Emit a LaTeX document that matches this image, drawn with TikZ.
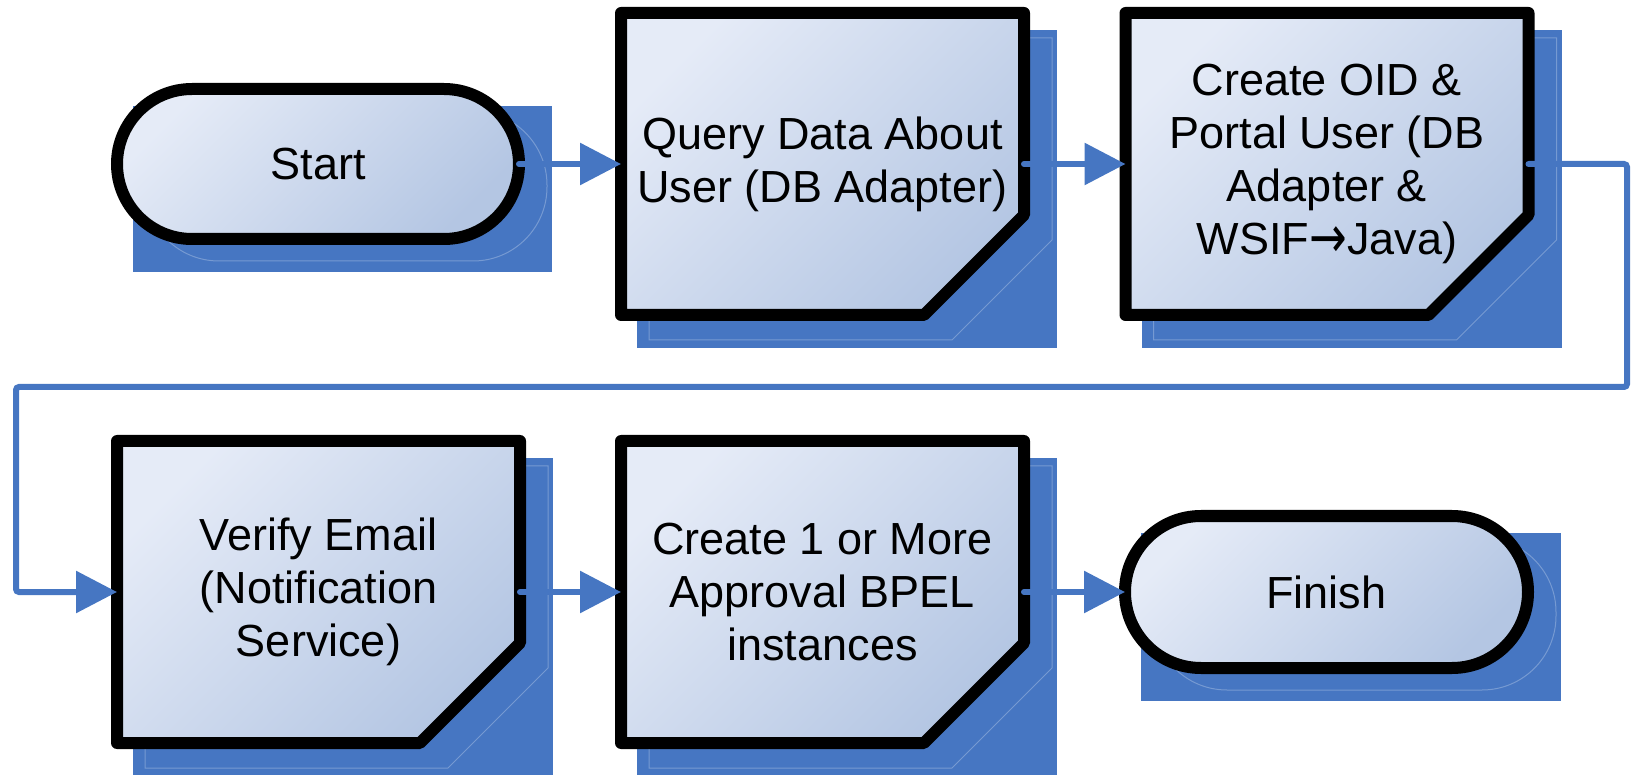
\documentclass[tikz,border=0pt]{standalone}
\usepackage{fontspec}
\usepackage{graphicx}
\setmainfont{Liberation Sans}
\newfontfamily\arrowfont{DejaVu Sans}
\usetikzlibrary{shapes.misc,arrows.meta,backgrounds}
\definecolor{shadowblue}{RGB}{70,118,194}
\definecolor{connblue}{RGB}{70,118,194}
\definecolor{faintblue}{RGB}{118,154,210}
\definecolor{filllight}{RGB}{229,235,247}
\definecolor{filldark}{RGB}{180,198,227}
\tikzset{
  txt/.style={align=center, font=\fontsize{22.5}{26.5}\selectfont, inner sep=0pt, outer sep=0pt},
  procbox/.style={txt, rectangle, minimum width=201.5pt, minimum height=151pt},
  termbox/.style={txt, rounded rectangle, draw=black, line width=6pt,
    top color=filllight, bottom color=filldark, shading angle=45},
  outlineshape/.style={draw=black, line width=6pt, line join=round,
    top color=filllight, bottom color=filldark, shading angle=45},
  shadowrect/.style={fill=shadowblue},
  faint/.style={draw=faintblue, line width=0.5pt},
  conn/.style={draw=connblue, line width=3pt, line cap=round, rounded corners=1.5pt,
    -{Triangle[length=20.5pt,width=20.5pt]}},
}
\newcommand{\procshape}[1]{%
  \fill[shadowrect] ([shift={(16,17)}]#1.north west) rectangle ([shift={(33,33)}]#1.south east);
  \draw[faint] ([shift={(28,25)}]#1.north west) -- ([shift={(28,25)}]#1.north east)
    -- ([shift={(28,-75)}]#1.south east) -- ([shift={(-72,25)}]#1.south east)
    -- ([shift={(28,25)}]#1.south west) -- cycle;
  \draw[outlineshape] (#1.north west) -- (#1.north east) -- ([shift={(0,-100)}]#1.south east)
    -- ([shift={(-100,0)}]#1.south east) -- (#1.south west) -- cycle;
}
\newcommand{\termshadow}[1]{%
  \fill[shadowrect] ([shift={(16,17)}]#1.west |- #1.north) rectangle ([shift={(33,33)}]#1.east |- #1.south);
  \draw[faint, rounded corners=37pt] ([shift={(28,22)}]#1.west |- #1.north) rectangle ([shift={(28,22)}]#1.east |- #1.south);
}
\newcommand{\rarrow}{\raisebox{-0.07em}{\scalebox{1.0}[1.3]{\arrowfont →}}}
\begin{document}
\begin{tikzpicture}[x=0.5pt, y=-0.5pt]
\useasboundingbox (0,0) rectangle (1635,775);

% nodes
\node[termbox, minimum width=201pt, minimum height=75pt] (s) at (318,164) {Start};
\node[procbox] (q) at (822.5,164) {Query Data About\\User (DB Adapter)};
\node[procbox] (c) at (1327,164) {Create OID \&\\Portal User (DB\\Adapter \&\\WSIF\rarrow Java)};
\node[procbox] (v) at (318.5,592) {Verify Email\\(Notification\\Service)};
\node[procbox] (a) at (822.5,592) {Create 1 or More\\Approval BPEL\\instances};
\node[termbox, minimum width=201.5pt, minimum height=76pt] (f) at (1326.5,592) {Finish};

% shapes and shadows behind the text
\begin{scope}[on background layer]
  \termshadow{s}
  \termshadow{f}
  \procshape{q}
  \procshape{c}
  \procshape{v}
  \procshape{a}
\end{scope}

% connectors
\coordinate (b1) at (1627,387);
\coordinate (b2) at (16,387);
\draw[conn] (s.east) -- (q.west);
\draw[conn] (q.east) -- (c.west);
\draw[conn] (c.east) -| (b1) -- (b2) |- (v.west);
\draw[conn] (v.east) -- (a.west);
\draw[conn] (a.east) -- (f.west);
\end{tikzpicture}
\end{document}
